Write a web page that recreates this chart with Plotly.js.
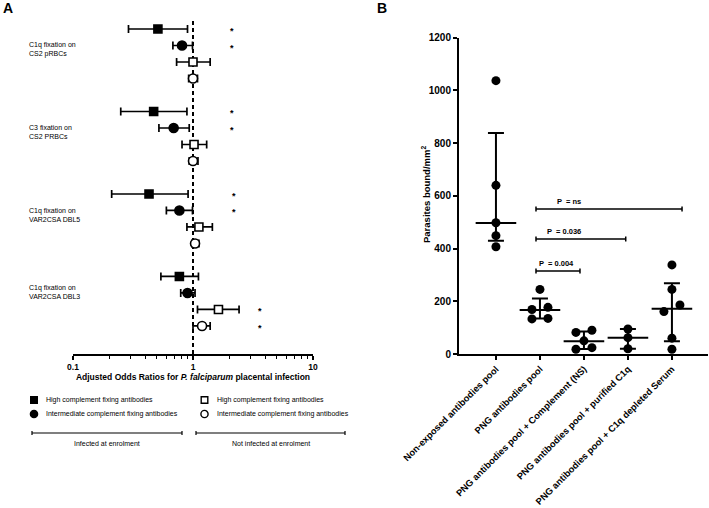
<!DOCTYPE html>
<html>
<head>
<meta charset="utf-8">
<script src="https://cdn.plot.ly/plotly-3.0.1.min.js"></script>
<style>html,body{margin:0;padding:0;background:#fff;}#chart{width:709px;height:508px;}</style>
</head>
<body>
<div id="chart"></div>
<script>
// ---------- Panel A data ----------
const groupsA = ['C1q fixation on<br>CS2 pRBCs', 'C3 fixation on<br>CS2 PRBCs', 'C1q fixation on<br>VAR2CSA DBL5', 'C1q fixation on<br>VAR2CSA DBL3'];
const seriesA = ['Infected: High complement fixing antibodies', 'Infected: Intermediate complement fixing antibodies', 'Not infected: High complement fixing antibodies', 'Not infected: Intermediate complement fixing antibodies'];
const infHighOR = [0.51, 0.47, 0.43, 0.77];
const infHighLo = [0.29, 0.25, 0.21, 0.54];
const infHighHi = [0.90, 0.89, 0.91, 1.11];
const infInterOR = [0.81, 0.69, 0.77, 0.90];
const infInterLo = [0.68, 0.52, 0.60, 0.79];
const infInterHi = [0.99, 0.93, 0.99, 1.04];
const notHighOR = [1.00, 1.02, 1.12, 1.63];
const notHighLo = [0.73, 0.81, 0.89, 1.09];
const notHighHi = [1.39, 1.30, 1.45, 2.42];
const notInterOR = [1.00, 1.00, 1.04, 1.19];
const notInterLo = [0.92, 0.93, 0.98, 1.00];
const notInterHi = [1.09, 1.10, 1.12, 1.39];
const infHighSig = [1, 1, 1, 0];
const infInterSig = [1, 1, 1, 0];
const notHighSig = [0, 0, 0, 1];
const notInterSig = [0, 0, 0, 1];
const referenceOR = 1;
const xTickValsA = [0.1, 1, 10];
const xTickTextA = ['0.1', '1', '10'];

// ---------- Panel B data ----------
const catsB = ['Non-exposed antibodies pool', 'PNG antibodies pool', 'PNG antibodies pool + Complement (NS)', 'PNG antibodies pool + purified C1q', 'PNG antibodies pool + C1q depleted Serum'];
const nonExposed = [1037, 640, 498, 449, 407];
const pngPool = [245, 177, 169, 135, 133];
const pngComplement = [90, 82, 50, 24, 18];
const pngC1q = [95, 62, 20];
const pngDepleted = [338, 245, 186, 161, 60, 18];
const medianB = [497, 167, 48, 62, 172];
const upperB = [838, 211, 85, 95, 268];
const lowerB = [430, 135, 19, 20, 48];
const yTickValsB = [0, 200, 400, 600, 800, 1000, 1200];
const pLabels = ['P  = 0.004', 'P  = 0.036', 'P  = ns'];
const pY = [315, 436, 550];
const pX0 = [0.91, 0.91, 0.91];
const pX1 = [1.91, 2.95, 4.23];
const pTextX = [0.93, 1.11, 1.34];

// ---------- layout helpers ----------
const W = 709, H = 508;
const px = x => x / W;
const py = y => 1 - y / H;
const FONT = 'Liberation Sans, Arial, Helvetica, sans-serif';
const BLACK = '#000000';

const domAx = [px(73), px(313)], domAy = [py(354), py(18)];
const domBx = [px(459), px(708)], domBy = [py(354), py(37.7)];
const rangeAy = [19.7, -0.667];
const rangeBx = [-0.84, 4.82], rangeBy = [0, 1200];
const pxPerUnitBY = (domBy[1] - domBy[0]) * H / (rangeBy[1] - rangeBy[0]);
const pxPerUnitBX = (domBx[1] - domBx[0]) * W / (rangeBx[1] - rangeBx[0]);

const traces = [];
const annotations = [];
const shapes = [];

// dashed reference line at OR = 1 (drawn first so markers sit on top)
traces.push({type: 'scatter', mode: 'lines', name: 'OR = 1', x: [referenceOR, referenceOR], y: rangeAy,
  xaxis: 'x', yaxis: 'y', cliponaxis: false, showlegend: false, hoverinfo: 'skip',
  line: {color: BLACK, width: 2, dash: '4px,3px'}});

// Panel A traces
const aSeries = [
  {or: infHighOR, lo: infHighLo, hi: infHighHi, sig: infHighSig, symbol: 'square', fill: BLACK, size: 8},
  {or: infInterOR, lo: infInterLo, hi: infInterHi, sig: infInterSig, symbol: 'circle', fill: BLACK, size: 9},
  {or: notHighOR, lo: notHighLo, hi: notHighHi, sig: notHighSig, symbol: 'square', fill: '#ffffff', size: 8},
  {or: notInterOR, lo: notInterLo, hi: notInterHi, sig: notInterSig, symbol: 'circle', fill: '#ffffff', size: 9}
];
const rowY = (g, s) => g * 5 + s;
aSeries.forEach((s, si) => {
  traces.push({
    type: 'scatter', mode: 'markers', name: seriesA[si],
    x: s.or, y: groupsA.map((g, gi) => rowY(gi, si)),
    xaxis: 'x', yaxis: 'y', cliponaxis: false, showlegend: false,
    marker: {symbol: s.symbol, size: s.size, color: s.fill, line: {color: BLACK, width: 1.6}},
    error_x: {type: 'data', symmetric: false,
      array: s.or.map((v, i) => s.hi[i] - v), arrayminus: s.or.map((v, i) => v - s.lo[i]),
      color: BLACK, thickness: 1.7, width: 4}
  });
});
// significance stars
groupsA.forEach((g, gi) => {
  const maxHi = Math.max(...aSeries.map(s => s.hi[gi]));
  const starX = Math.max(2.1, maxHi * 1.5);
  aSeries.forEach((s, si) => {
    if (s.sig[gi]) annotations.push({xref: 'x', yref: 'y', x: Math.log10(starX), y: rowY(gi, si),
      text: '*', showarrow: false, font: {family: FONT, size: 9, color: BLACK, weight: 'bold'}, yshift: -2});
  });
  annotations.push({xref: 'paper', yref: 'y', x: px(27), y: rowY(gi, 0) + (gi === 3 ? 0.95 : 1.25),
    xanchor: 'left', yanchor: 'middle', align: 'left', text: g, showarrow: false,
    font: {family: FONT, size: 7, color: BLACK}});
});

// Panel A legend (drawn in paper space)
const legA = [
  {x: 34, y: 400, sym: 'rect', fill: BLACK, text: 'High complement fixing antibodies'},
  {x: 34, y: 414, sym: 'circle', fill: BLACK, text: 'Intermediate complement fixing antibodies'},
  {x: 204.5, y: 400, sym: 'rect', fill: '#ffffff', text: 'High complement fixing antibodies'},
  {x: 204.5, y: 414, sym: 'circle', fill: '#ffffff', text: 'Intermediate complement fixing antibodies'}
];
legA.forEach(l => {
  const r = l.sym === 'rect' ? 3.3 : 3.6;
  shapes.push({type: l.sym, xref: 'paper', yref: 'paper', x0: px(l.x - r), x1: px(l.x + r), y0: py(l.y + r), y1: py(l.y - r),
    fillcolor: l.fill, line: {color: BLACK, width: 1.4}});
  annotations.push({xref: 'paper', yref: 'paper', x: px(l.x + 10), y: py(l.y), xanchor: 'left', yanchor: 'middle',
    text: l.text, showarrow: false, font: {family: FONT, size: 7, color: BLACK}});
});
const brA = [
  {x0: 32, x1: 182, text: 'Infected at enrolment'},
  {x0: 196, x1: 345, text: 'Not infected at enrolment'}
];
brA.forEach(b => {
  shapes.push({type: 'line', xref: 'paper', yref: 'paper', x0: px(b.x0), x1: px(b.x1), y0: py(433), y1: py(433), line: {color: BLACK, width: 1.2}});
  [b.x0, b.x1].forEach(xx => shapes.push({type: 'line', xref: 'paper', yref: 'paper', x0: px(xx), x1: px(xx), y0: py(431), y1: py(435), line: {color: BLACK, width: 1.2}}));
  annotations.push({xref: 'paper', yref: 'paper', x: px((b.x0 + b.x1) / 2), y: py(443), xanchor: 'center', yanchor: 'middle',
    text: b.text, showarrow: false, font: {family: FONT, size: 7, color: BLACK}});
});

// Panel B: dot plot with deterministic horizontal dodge
function dodge(vals, idx) {
  const thr = 7.5 / pxPerUnitBY;
  const sp = 16 / pxPerUnitBX;
  const order = vals.map((v, i) => i).sort((a, b) => vals[a] - vals[b]);
  const xs = new Array(vals.length);
  let row = [];
  const flush = () => { row.forEach((k, j) => { xs[k] = idx + (j - (row.length - 1) / 2) * sp; }); row = []; };
  order.forEach(k => { if (row.length && vals[k] - vals[row[0]] >= thr) flush(); row.push(k); });
  flush();
  return xs;
}
[nonExposed, pngPool, pngComplement, pngC1q, pngDepleted].forEach((vals, ci) => {
  traces.push({type: 'scatter', mode: 'markers', name: catsB[ci], x: dodge(vals, ci), y: vals,
    xaxis: 'x2', yaxis: 'y2', cliponaxis: false, showlegend: false,
    marker: {symbol: 'circle', size: 9, color: BLACK}});
});
traces.push({type: 'scatter', mode: 'markers', name: 'Median', x: catsB.map((c, i) => i), y: medianB,
  xaxis: 'x2', yaxis: 'y2', cliponaxis: false, showlegend: false,
  marker: {symbol: 'line-ew', size: 29, color: BLACK, line: {color: BLACK, width: 2}},
  error_y: {type: 'data', symmetric: false, array: medianB.map((m, i) => upperB[i] - m), arrayminus: medianB.map((m, i) => m - lowerB[i]),
    color: BLACK, thickness: 2, width: 8}});
// P-value brackets
pLabels.forEach((t, i) => {
  shapes.push({type: 'line', xref: 'x2', yref: 'y2', x0: pX0[i], x1: pX1[i], y0: pY[i], y1: pY[i], line: {color: BLACK, width: 1.5}});
  [pX0[i], pX1[i]].forEach(xx => shapes.push({type: 'line', xref: 'x2', yref: 'y2', ysizemode: 'pixel', yanchor: pY[i],
    x0: xx, x1: xx, y0: -2.5, y1: 2.5, line: {color: BLACK, width: 1.5}}));
  annotations.push({xref: 'x2', yref: 'y2', x: pTextX[i], y: pY[i], xanchor: 'left', yanchor: 'bottom', yshift: 1,
    text: t, showarrow: false, font: {family: FONT, size: 7.5, color: BLACK, weight: 'bold'}});
});
// y-axis title for B
annotations.push({xref: 'paper', yref: 'paper', x: px(426), y: py(194), xanchor: 'center', yanchor: 'middle', textangle: -90,
  text: 'Parasites bound/mm<sup>2</sup>', showarrow: false, font: {family: FONT, size: 9.5, color: BLACK, weight: 'bold'}});
// panel letters
annotations.push({xref: 'paper', yref: 'paper', x: px(1), y: py(8), xanchor: 'left', yanchor: 'middle', text: 'A', showarrow: false,
  font: {family: FONT, size: 14, color: BLACK, weight: 'bold'}});
annotations.push({xref: 'paper', yref: 'paper', x: px(375), y: py(8), xanchor: 'left', yanchor: 'middle', text: 'B', showarrow: false,
  font: {family: FONT, size: 14, color: BLACK, weight: 'bold'}});

const layout = {
  width: W, height: H, margin: {l: 0, r: 0, t: 0, b: 0},
  paper_bgcolor: 'white', plot_bgcolor: 'rgba(0,0,0,0)',
  font: {family: FONT, color: BLACK},
  showlegend: false,
  xaxis: {domain: domAx, type: 'log', range: [-1, 1], anchor: 'y', automargin: false,
    showgrid: false, zeroline: false, showline: true, linecolor: BLACK, linewidth: 2,
    tickmode: 'array', tickvals: xTickValsA, ticktext: xTickTextA, ticks: 'outside', ticklen: 4, tickwidth: 1.5, tickcolor: BLACK,
    tickfont: {family: FONT, size: 8.5, weight: 'bold', color: BLACK},
    minor: {tickmode: 'array', tickvals: [0.2,0.3,0.4,0.5,0.6,0.7,0.8,0.9,2,3,4,5,6,7,8,9], ticks: 'outside', ticklen: 3, tickwidth: 1, tickcolor: BLACK, showgrid: false},
    title: {text: 'Adjusted Odds Ratios for <i>P. falciparum</i> placental infection', standoff: 3, font: {family: FONT, size: 8.5, weight: 'bold', color: BLACK}}},
  yaxis: {domain: domAy, range: rangeAy, anchor: 'x', visible: false, showgrid: false, zeroline: false},
  xaxis2: {domain: domBx, range: rangeBx, anchor: 'y2', automargin: false,
    showgrid: false, zeroline: false, showline: true, linecolor: BLACK, linewidth: 2,
    tickmode: 'array', tickvals: catsB.map((c, i) => i), ticktext: catsB, tickangle: -45,
    ticks: 'outside', ticklen: 4, tickwidth: 2, tickcolor: BLACK,
    tickfont: {family: FONT, size: 9.3, weight: 'bold', color: BLACK}},
  yaxis2: {domain: domBy, range: rangeBy, anchor: 'x2', automargin: false,
    showgrid: false, zeroline: false, showline: true, linecolor: BLACK, linewidth: 2,
    tickmode: 'array', tickvals: yTickValsB, ticks: 'outside', ticklen: 4, tickwidth: 2, tickcolor: BLACK,
    tickfont: {family: FONT, size: 10, weight: 'bold', color: BLACK}},
  shapes: shapes,
  annotations: annotations
};

Plotly.newPlot('chart', traces, layout, {staticPlot: true, displayModeBar: false});
</script>
</body>
</html>
